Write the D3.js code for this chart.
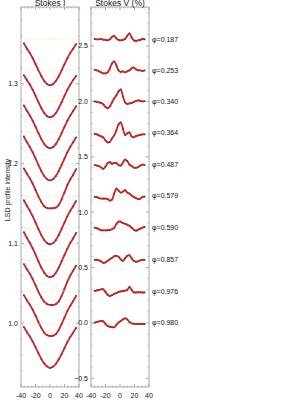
<!DOCTYPE html>
<html>
<head>
<meta charset="utf-8">
<script src="https://cdn.jsdelivr.net/npm/d3@7"></script>
<style>
  body { margin: 0; background: #fff; }
  svg { display: block; font-family: "Liberation Sans", Arial, sans-serif; }
</style>
</head>
<body>
<svg id="chart" width="300" height="400"></svg>
<script>
// rotational phases, top to bottom
const phases = ["0.187", "0.253", "0.340", "0.364", "0.487", "0.579", "0.590", "0.857", "0.976", "0.980"];

// vertical shifts applied to each profile
const offsetI = [0.356, 0.317, 0.278, 0.239, 0.199, 0.159, 0.119, 0.079, 0.040, 0];
const offsetV = [2.56, 2.28, 2.0, 1.72, 1.43, 1.15, 0.86, 0.57, 0.28, 0];

// velocity grids (km/s)
const velI = [-36, -32, -28, -24, -20, -16, -12, -8, -4, 0, 4, 8, 12, 16, 20, 24, 28, 32, 36];
const velV = [-35, -32, -29, -26, -23, -20, -17, -14, -11, -8, -5, -2, 1, 4, 7, 10, 13, 16, 19, 22, 25, 28, 31, 34];

// Stokes I profiles (normalised)
const stokesI = [
  [0.995,0.9885,0.9830,0.9765,0.9690,0.9612,0.9540,0.9478,0.9438,0.9424,0.9436,0.9476,0.9536,0.9610,0.9688,0.9762,0.9828,0.9882,0.994],
  [0.994,0.9880,0.9825,0.9758,0.9682,0.9602,0.9528,0.9466,0.9425,0.9412,0.9424,0.9464,0.9526,0.9600,0.9680,0.9756,0.9822,0.9878,0.993],
  [0.995,0.9884,0.9826,0.9760,0.9684,0.9604,0.9530,0.9468,0.9428,0.9413,0.9425,0.9465,0.9527,0.9602,0.9682,0.9758,0.9824,0.9880,0.994],
  [0.995,0.9882,0.9822,0.9754,0.9676,0.9594,0.9518,0.9455,0.9414,0.9400,0.9413,0.9454,0.9517,0.9593,0.9674,0.9752,0.9820,0.9878,0.994],
  [0.995,0.9885,0.9828,0.9760,0.9680,0.9600,0.9530,0.9475,0.9452,0.9448,0.9450,0.9458,0.9490,0.9560,0.9650,0.9740,0.9812,0.9872,0.994],
  [0.995,0.9882,0.9822,0.9752,0.9672,0.9590,0.9514,0.9452,0.9412,0.9398,0.9410,0.9450,0.9514,0.9590,0.9672,0.9750,0.9818,0.9876,0.994],
  [0.995,0.9880,0.9818,0.9748,0.9668,0.9584,0.9506,0.9442,0.9400,0.9386,0.9398,0.9440,0.9504,0.9582,0.9664,0.9744,0.9814,0.9874,0.994],
  [0.995,0.9886,0.9830,0.9762,0.9684,0.9604,0.9532,0.9478,0.9448,0.9438,0.9436,0.9445,0.9480,0.9550,0.9640,0.9730,0.9806,0.9868,0.993],
  [0.995,0.9888,0.9832,0.9768,0.9694,0.9614,0.9540,0.9480,0.9448,0.9437,0.9440,0.9460,0.9512,0.9588,0.9670,0.9750,0.9818,0.9876,0.994],
  [0.995,0.9888,0.9834,0.9770,0.9698,0.9622,0.9550,0.9492,0.9455,0.9436,0.9452,0.9488,0.9542,0.9610,0.9686,0.9760,0.9824,0.9880,0.994]
];

// Stokes V profiles (%)
const stokesV = [
  [0.003,0,0,0.002,-0.003,-0.005,-0.009,0,0.023,0.030,0.009,-0.005,-0.009,-0.005,0.005,0.032,0.054,0.018,-0.009,-0.014,-0.009,-0.005,0.005,0],
  [0.005,0,-0.009,-0.018,-0.027,-0.027,-0.018,0.018,0.063,0.081,0.045,0,-0.014,-0.009,-0.018,-0.009,0,0.018,0.027,0.009,0,0,-0.005,0],
  [0,-0.005,-0.009,-0.014,-0.027,-0.050,-0.063,-0.045,-0.009,0.027,0.054,0.090,0.108,0.045,-0.009,-0.023,-0.018,-0.014,-0.005,0.005,0.009,0.005,0,0.003],
  [-0.014,-0.018,-0.027,-0.036,-0.045,-0.072,-0.090,-0.086,-0.054,-0.027,0.018,0.072,0.090,0.036,-0.023,-0.009,0,-0.036,-0.045,-0.032,-0.027,-0.023,-0.018,-0.018],
  [-0.005,-0.009,-0.015,-0.027,-0.039,-0.018,0.014,0.021,0.007,0.014,0.014,-0.005,-0.009,0.018,0.045,0.032,0,-0.014,-0.027,-0.030,-0.023,-0.009,0,-0.005],
  [-0.012,-0.014,-0.023,-0.027,-0.027,-0.027,-0.032,-0.045,-0.036,0.018,0.063,0.045,0.027,0.036,0.048,0.027,0.018,0,-0.012,-0.023,-0.033,-0.027,-0.014,-0.009],
  [0,-0.005,-0.014,-0.023,-0.024,-0.024,-0.023,-0.021,-0.014,0,0.032,0.054,0.054,0.041,0.036,0.027,0.018,0,-0.018,-0.027,-0.018,-0.009,0,0.006],
  [0,0,-0.005,-0.014,-0.027,-0.023,-0.009,0.005,0.018,0.032,0.036,0.027,0.005,-0.009,0.014,0.036,0.041,0.014,-0.009,-0.018,-0.014,-0.005,0,0],
  [0.009,0.014,0.018,0.024,0.023,0,-0.027,-0.036,-0.029,-0.018,-0.009,0,0.005,0.009,0.012,0.018,0.045,0.018,-0.003,-0.005,-0.003,-0.003,-0.005,-0.003],
  [0.003,0.009,0.014,0.018,0.014,-0.009,-0.027,-0.034,-0.038,-0.039,-0.018,0.005,0.018,0.032,0.042,0.032,0.009,-0.003,-0.007,-0.009,-0.009,-0.009,-0.009,-0.009]
];

const xTicks = [-40, -20, 0, 20, 40];
const iTicks = [1.0, 1.1, 1.2, 1.3];
const vTicks = [-0.5, 0.0, 0.5, 1.0, 1.5, 2.0, 2.5];

const svg = d3.select("#chart");
const yTop = 7, yBot = 387;
const frameColor = "#aaa";

const panels = [
  { x0: 21, x1: 79, title: "Stokes I", domain: [0.9197, 1.3965], ticks: iTicks, minor: 0.02, fmt: d3.format(".1f") },
  { x0: 91, x1: 149, title: "Stokes V (%)", domain: [-0.578, 2.852], ticks: vTicks, minor: 0.1, fmt: d3.format(".1f") }
];

panels.forEach(p => {
  p.x = d3.scaleLinear().domain([-40, 40]).range([p.x0, p.x1]);
  p.y = d3.scaleLinear().domain(p.domain).range([yBot, yTop]);
  const g = svg.append("g");

  // frame
  g.append("rect").attr("x", p.x0).attr("y", yTop).attr("width", p.x1 - p.x0).attr("height", yBot - yTop)
    .attr("fill", "none").attr("stroke", frameColor).attr("stroke-width", 1);

  // x ticks, major and minor, top and bottom
  d3.range(-40, 40.1, 5).forEach(v => {
    const len = v % 20 === 0 ? 3 : 1.5;
    const xx = p.x(v);
    g.append("line").attr("x1", xx).attr("x2", xx).attr("y1", yBot).attr("y2", yBot - len).attr("stroke", frameColor);
    g.append("line").attr("x1", xx).attr("x2", xx).attr("y1", yTop).attr("y2", yTop + len).attr("stroke", frameColor);
  });
  g.selectAll(".xl").data(xTicks).join("text")
    .attr("x", d => p.x(d)).attr("y", 397.5).attr("text-anchor", "middle")
    .attr("font-size", 7).attr("fill", "#111").text(d => d);

  // y ticks, major and minor, left and right
  const lo = Math.ceil(p.domain[0] / p.minor), hi = Math.floor(p.domain[1] / p.minor);
  d3.range(lo, hi + 1).forEach(k => {
    const v = k * p.minor;
    const major = p.ticks.some(t => Math.abs(t - v) < 1e-6);
    const len = major ? 3 : 1.5;
    const yy = p.y(v);
    g.append("line").attr("x1", p.x0).attr("x2", p.x0 + len).attr("y1", yy).attr("y2", yy).attr("stroke", frameColor);
    g.append("line").attr("x1", p.x1).attr("x2", p.x1 - len).attr("y1", yy).attr("y2", yy).attr("stroke", frameColor);
  });
  g.selectAll(".yl").data(p.ticks).join("text")
    .attr("x", p.x0 - 3).attr("y", d => p.y(d) + 2.5).attr("text-anchor", "end")
    .attr("font-size", 7).attr("fill", "#111").text(d => p.fmt(d));

  g.append("text").attr("x", (p.x0 + p.x1) / 2).attr("y", 5.5).attr("text-anchor", "middle")
    .attr("font-size", 8.5).attr("fill", "#111").text(p.title);
});

svg.append("text").attr("transform", "translate(10,190) rotate(-90)")
  .attr("text-anchor", "middle").attr("font-size", 7).attr("fill", "#222").text("LSD profile intensity");

const [pI, pV] = panels;

function drawSet(p, vel, profiles, offsets, base) {
  const g = svg.append("g");
  profiles.forEach((prof, i) => {
    const pts = vel.map((v, j) => ({ v, val: prof[j] + offsets[i] }));
    // zero / continuum reference
    g.append("line")
      .attr("x1", p.x(vel[0])).attr("x2", p.x(vel[vel.length - 1]))
      .attr("y1", p.y(base + offsets[i])).attr("y2", p.y(base + offsets[i]))
      .attr("stroke", "#f2e25a").attr("stroke-width", 0.8).attr("stroke-dasharray", "1,2");
    const line = d3.line().x(d => p.x(d.v)).y(d => p.y(d.val)).curve(d3.curveCatmullRom);
    g.append("path").datum(pts).attr("d", line).attr("fill", "none")
      .attr("stroke", "#444").attr("stroke-width", 1.9).attr("stroke-opacity", 0.6);
    g.selectAll(null).data(pts).join("circle")
      .attr("cx", d => p.x(d.v)).attr("cy", d => p.y(d.val)).attr("r", 0.9).attr("fill", "#333");
    g.append("path").datum(pts).attr("d", line).attr("fill", "none")
      .attr("stroke", "#e8141a").attr("stroke-width", 1.3);
  });
}

drawSet(pI, velI, stokesI, offsetI, 1.0);
drawSet(pV, velV, stokesV, offsetV, 0.0);

// phase labels
svg.selectAll(".ph").data(phases).join("text")
  .attr("x", 152).attr("y", (d, i) => pV.y(offsetV[i]) + 2.5)
  .attr("font-size", 7).attr("fill", "#111").text(d => "\u03c6=" + d);
</script>
</body>
</html>
